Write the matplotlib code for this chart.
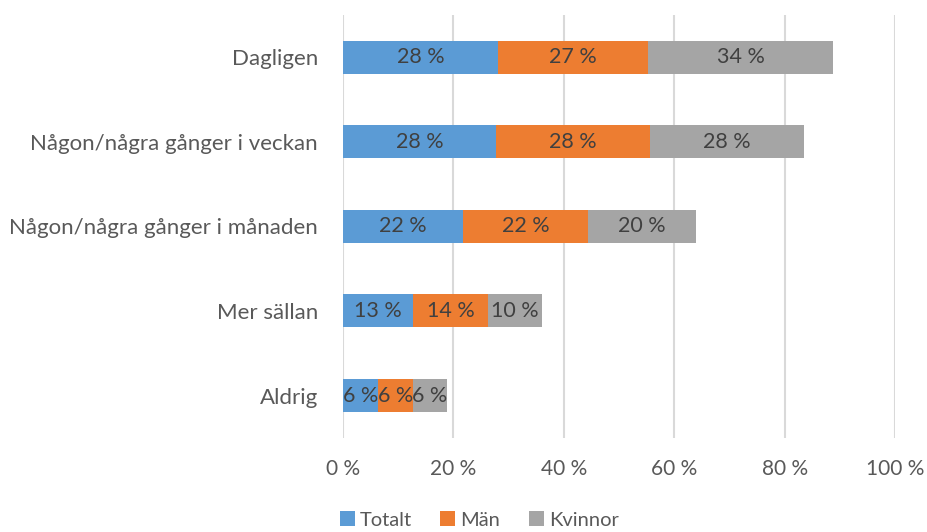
import matplotlib.pyplot as plt
import numpy as np

categories = ["Dagligen", "Någon/några gånger i veckan", "Någon/några gånger i månaden",
              "Mer sällan", "Aldrig"]
series = ["Totalt", "Män", "Kvinnor"]
totalt = [28.1, 27.7, 21.8, 12.7, 6.3]
man = [27.2, 27.9, 22.5, 13.6, 6.3]
kvinnor = [33.5, 27.9, 19.7, 9.8, 6.2]
labels_totalt = ["28 %", "28 %", "22 %", "13 %", "6 %"]
labels_man = ["27 %", "28 %", "22 %", "14 %", "6 %"]
labels_kvinnor = ["34 %", "28 %", "20 %", "10 %", "6 %"]
xticks = [0, 20, 40, 60, 80, 100]

colors = ["#5b9bd5", "#ed7d31", "#a5a5a5"]

plt.rcParams['font.family'] = ['Lato', 'DejaVu Sans']

fig = plt.figure(figsize=(9.27, 5.32), dpi=100)
ax = fig.add_axes([0.370, 0.177, 0.5955, 0.795])

y = np.arange(len(categories))
left = np.zeros(len(categories))
for name, vals, labs, c in zip(series, [totalt, man, kvinnor],
                               [labels_totalt, labels_man, labels_kvinnor], colors):
    bars = ax.barh(y, vals, left=left, height=0.39, color=c, label=name, zorder=3)
    ax.bar_label(bars, labels=labs, label_type='center', color='#404040', fontsize=15.5)
    left += np.array(vals)

ax.set_xlim(0, 100)
ax.set_ylim(4.5, -0.5)
ax.set_yticks(y)
ax.set_yticklabels(categories)
ax.set_xticks(xticks)
ax.set_xticklabels([f"{t} %" for t in xticks])
ax.tick_params(length=0, labelsize=16, colors='#595959')
ax.tick_params(axis='x', labelsize=15, pad=15)
ax.tick_params(axis='y', pad=18)
ax.grid(axis='x', color='#d9d9d9', linewidth=1.5, zorder=0)
for s in ax.spines.values():
    s.set_visible(False)

fig.legend(loc='lower center', bbox_to_anchor=(0.517, -0.028), ncol=3, frameon=False,
           fontsize=14.5, labelcolor='#595959', handlelength=0.75, handleheight=0.75,
           handletextpad=0.25, columnspacing=1.4)

fig.savefig("out.png", dpi=100)
